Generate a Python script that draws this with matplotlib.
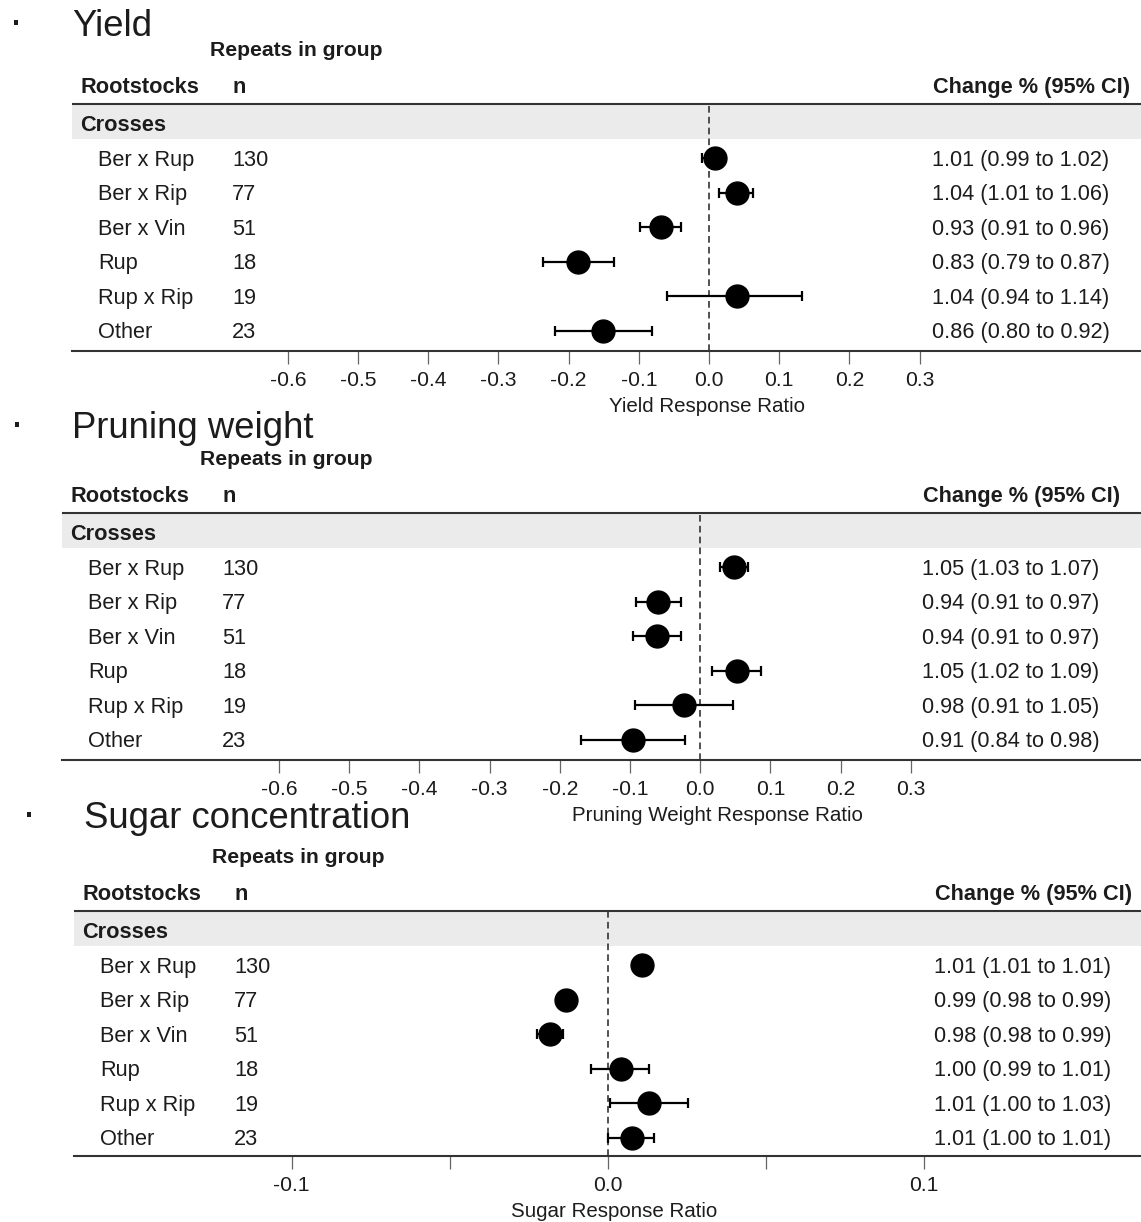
import numpy as np
import matplotlib
matplotlib.use('Agg')
import matplotlib.pyplot as plt

plt.rcParams['font.family'] = ['Liberation Sans', 'DejaVu Sans']

# Daten (log response ratio)
rootstocks = ['Ber x Rup', 'Ber x Rip', 'Ber x Vin', 'Rup', 'Rup x Rip', 'Other']
n_repeats = [130, 77, 51, 18, 19, 23]

yield_est = [0.008, 0.040, -0.068, -0.186, 0.040, -0.151]
yield_lo = [-0.010, 0.014, -0.099, -0.236, -0.060, -0.220]
yield_hi = [0.022, 0.063, -0.040, -0.136, 0.133, -0.081]
yield_txt = ['1.01 (0.99 to 1.02)', '1.04 (1.01 to 1.06)', '0.93 (0.91 to 0.96)',
             '0.83 (0.79 to 0.87)', '1.04 (0.94 to 1.14)', '0.86 (0.80 to 0.92)']

prun_est = [0.048, -0.060, -0.061, 0.052, -0.023, -0.096]
prun_lo = [0.028, -0.092, -0.096, 0.017, -0.093, -0.170]
prun_hi = [0.068, -0.028, -0.027, 0.086, 0.047, -0.021]
prun_txt = ['1.05 (1.03 to 1.07)', '0.94 (0.91 to 0.97)', '0.94 (0.91 to 0.97)',
            '1.05 (1.02 to 1.09)', '0.98 (0.91 to 1.05)', '0.91 (0.84 to 0.98)']

sugar_est = [0.0109, -0.0132, -0.0181, 0.0042, 0.0132, 0.0078]
sugar_lo = [0.0096, -0.0146, -0.0224, -0.0052, 0.0007, 0.0000]
sugar_hi = [0.0121, -0.0118, -0.0140, 0.0130, 0.0255, 0.0148]
sugar_txt = ['1.01 (1.01 to 1.01)', '0.99 (0.98 to 0.99)', '0.98 (0.98 to 0.99)',
             '1.00 (0.99 to 1.01)', '1.01 (1.00 to 1.03)', '1.01 (1.00 to 1.01)']

wide_ticks = [-0.6, -0.5, -0.4, -0.3, -0.2, -0.1, 0.0, 0.1, 0.2, 0.3]
wide_labels = ['-0.6', '-0.5', '-0.4', '-0.3', '-0.2', '-0.1', '0.0', '0.1', '0.2', '0.3']
sugar_ticks = [-0.1, -0.05, 0.0, 0.05, 0.1]
sugar_labels = ['-0.1', '', '0.0', '', '0.1']

W, H = 1141, 1222
TXT = '#1c1c1c'
FS = 15.7
SPACING = 34.5

fig = plt.figure(figsize=(W / 100, H / 100), dpi=100)
canvas = fig.add_axes([0, 0, 1, 1])
canvas.set_xlim(0, W)
canvas.set_ylim(H, 0)
canvas.axis('off')


def label(x, y, s, size=FS, **kw):
    # y = Mitte der Grossbuchstaben, Text wird auf der Grundlinie gesetzt
    return canvas.text(x, y + 0.36 * size * 100 / 72, s, fontsize=size, color=TXT,
                       va='baseline', **kw)


def panel(title, title_x, title_y, bullet_x, left, head_y, axis_y, zero_px, ppu,
          ticks, ticklabels, xlabel, xlabel_x, est, lo, hi, txt):
    band_top = head_y + 20
    band_bot = head_y + 54
    row0 = head_y + 73

    # Titel und Kopfzeile
    canvas.text(bullet_x, title_y, '·', fontsize=30, color=TXT, ha='center', va='center')
    label(title_x, title_y, title, size=26.3)
    label(left + 138, head_y - 37, 'Repeats in group', size=15.2, fontweight='bold')
    label(left + 8, head_y, 'Rootstocks', fontweight='bold')
    label(left + 160, head_y, 'n', fontweight='bold')
    label(left + 1058, head_y, 'Change % (95% CI)', fontweight='bold', ha='right')
    canvas.plot([left, W], [head_y + 19, head_y + 19], color='#333333', lw=1.5,
                solid_capstyle='butt')
    canvas.fill_between([left, W], band_top, band_bot, color='#ebebeb', lw=0, zorder=0)
    label(left + 8, (band_top + band_bot) / 2 + 1, 'Crosses', fontweight='bold')

    for i, (name, n, t) in enumerate(zip(rootstocks, n_repeats, txt)):
        y = row0 + i * SPACING
        label(left + 26, y, name)
        label(left + 160, y, str(n))
        label(left + 860, y, t)

    label(xlabel_x, axis_y + 54, xlabel, size=14.8, ha='center')

    # Forest plot
    ax = fig.add_axes([left / W, 1 - axis_y / H, (W - left) / W, (axis_y - band_top) / H])
    ax.patch.set_alpha(0)
    ax.set_xlim((left - zero_px) / ppu, (W - zero_px) / ppu)
    ax.set_ylim((axis_y - row0) / SPACING, (band_top - row0) / SPACING)
    for s in ['top', 'left', 'right']:
        ax.spines[s].set_visible(False)
    ax.spines['bottom'].set_color('#333333')
    ax.spines['bottom'].set_linewidth(1.5)
    ax.set_yticks([])
    ax.set_xticks(ticks, ticklabels)
    ax.tick_params(axis='x', length=9.4, width=0.9, color='#666666', pad=5,
                   labelsize=15.2, labelcolor=TXT)

    ax.axvline(0, color='#333333', lw=1.2, ls=(0, (4, 2.5)), zorder=1)

    y = np.arange(len(est))
    est = np.array(est)
    err = [est - np.array(lo), np.array(hi) - est]
    ax.errorbar(est, y, xerr=err, fmt='none', ecolor='black', elinewidth=1.6,
                capsize=3.6, capthick=1.6, zorder=2)
    ax.plot(est, y, 'o', color='black', markersize=16.5, zorder=3)


panel('Yield', 72, 23, 16, 72, 85, 351, 709, 702,
      wide_ticks, wide_labels, 'Yield Response Ratio', 707,
      yield_est, yield_lo, yield_hi, yield_txt)

panel('Pruning weight', 72, 425, 17, 62, 494, 760, 700.2, 702,
      wide_ticks, wide_labels, 'Pruning Weight Response Ratio', 717,
      prun_est, prun_lo, prun_hi, prun_txt)

panel('Sugar concentration', 84, 815, 29, 74, 892, 1156, 607.5, 3160,
      sugar_ticks, sugar_labels, 'Sugar Response Ratio', 614,
      sugar_est, sugar_lo, sugar_hi, sugar_txt)

plt.savefig('out.png', dpi=100)
plt.close()
